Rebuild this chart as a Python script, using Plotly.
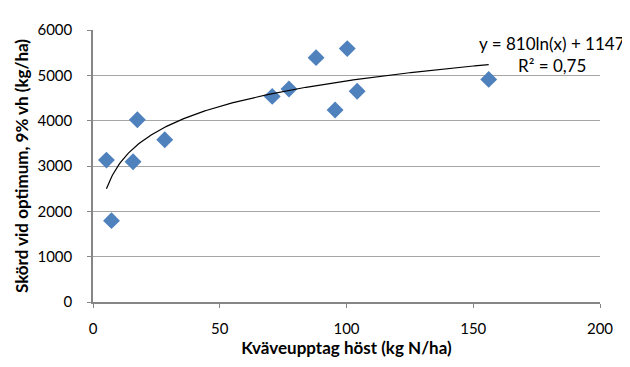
import numpy as np
import plotly.graph_objects as go

# Data
n_uptake = [5.3, 7.3, 15.8, 17.5, 28.3, 70.7, 77.3, 88.0, 95.5, 100.3, 104.2, 156.1]
yield_opt = [3130, 1795, 3095, 4020, 3580, 4535, 4700, 5390, 4235, 5590, 4650, 4910]

trend_a = 810
trend_b = 1147
eq_text = "y = 810ln(x) + 1147"
r2_text = "R² = 0,75"

x_ticks = [0, 50, 100, 150, 200]
y_ticks = [0, 1000, 2000, 3000, 4000, 5000, 6000]

xs = np.linspace(min(n_uptake), max(n_uptake), 300)
ys = trend_a * np.log(xs) + trend_b

FONT = "Lato, 'Open Sans', sans-serif"

fig = go.Figure()
fig.add_trace(go.Scatter(
    x=n_uptake, y=yield_opt, mode="markers",
    marker=dict(symbol="diamond", size=13, color="#4F81BD", line=dict(width=0)),
    showlegend=False, hoverinfo="x+y"))
fig.add_trace(go.Scatter(
    x=xs, y=ys, mode="lines", line=dict(color="black", width=1.2),
    showlegend=False, hoverinfo="skip"))

fig.add_annotation(x=181.1, y=5695, text=eq_text, showarrow=False,
                   font=dict(family=FONT, size=17, color="black"), xanchor="center", yanchor="middle")
fig.add_annotation(x=181.1, y=5225, text=r2_text, showarrow=False,
                   font=dict(family=FONT, size=17, color="black"), xanchor="center", yanchor="middle")

# page body has an 8px margin, so the figure is sized to fit 630x367 exactly
fig.update_layout(
    width=622, height=359,
    margin=dict(l=85, r=30, t=13, b=65),
    paper_bgcolor="white", plot_bgcolor="white",
    font=dict(family=FONT, size=15, color="black"),
    xaxis=dict(range=[0, 200], tickvals=x_ticks, showgrid=False, zeroline=False,
               showline=True, linecolor="#868686", linewidth=1.5,
               ticks="outside", ticklen=4, tickcolor="#868686", ticklabelstandoff=8,
               title=dict(text="<b>Kväveupptag höst (kg N/ha)</b>", font=dict(family=FONT, size=17), standoff=6)),
    yaxis=dict(range=[0, 6000], tickvals=y_ticks, showgrid=True, gridcolor="#a6a6a6", gridwidth=1,
               zeroline=False, showline=True, linecolor="#868686", linewidth=1.5,
               ticks="outside", ticklen=4, tickcolor="#868686", ticklabelstandoff=12,
               title=dict(text="<b>Skörd vid optimum, 9% vh (kg/ha)</b>", font=dict(family=FONT, size=17), standoff=4)),
)

fig.write_html("out.html")
